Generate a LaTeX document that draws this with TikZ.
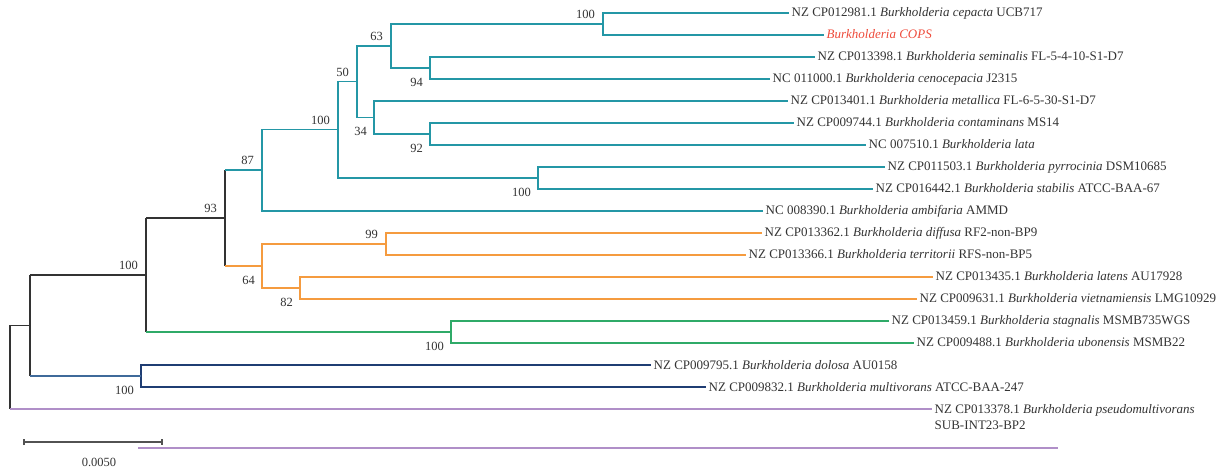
\documentclass[tikz,border=0pt]{standalone}
\usepackage{fontspec}
\setmainfont{Liberation Serif}
\usepackage{xcolor}
\usetikzlibrary{arrows.meta,positioning}
\definecolor{CladeTeal}{HTML}{2497A6}
\definecolor{CladeOrange}{HTML}{F59B3F}
\definecolor{CladeGreen}{HTML}{2FAA68}
\definecolor{CladeNavy}{HTML}{1F3D73}
\definecolor{CladeSteel}{HTML}{3F6A9A}
\definecolor{CladePurple}{HTML}{B08FC8}
\definecolor{TreeGray}{HTML}{333333}
\definecolor{CopsRed}{HTML}{EE4B3B}
\newcommand{\bk}{\textit{Burkholderia}}

\begin{document}
\begin{tikzpicture}[
  x=1pt, y=-1pt,
  leaf/.style={anchor=west, inner sep=2.5pt, text=TreeGray, font=\fontsize{13}{15}\selectfont, text height=11pt, text depth=3pt},
  bootup/.style={anchor=south east, inner sep=0pt, xshift=-8pt, yshift=5pt, text=TreeGray, font=\fontsize{12.5}{14}\selectfont},
  bootdown/.style={anchor=north east, inner sep=0pt, xshift=-7pt, yshift=-10pt, text=TreeGray, font=\fontsize{12.5}{14}\selectfont},
  branch/.style={line width=1.6pt},
  teal/.style={branch, draw=CladeTeal},
  orng/.style={branch, draw=CladeOrange},
  grn/.style={branch, draw=CladeGreen},
  navy/.style={branch, draw=CladeNavy},
  purp/.style={branch, draw=CladePurple},
  spine/.style={branch, draw=TreeGray}
]
  \useasboundingbox (0,0) rectangle (1221,470);

  % leaves
  \node[leaf] (cepacta) at (789,13) {NZ CP012981.1 \bk{} \textit{cepacta} UCB717};
  \node[leaf, text=CopsRed] (cops) at (824,35) {\bk{} \textit{COPS}};
  \node[leaf] (seminalis) at (815,57) {NZ CP013398.1 \bk{} \textit{seminalis} FL-5-4-10-S1-D7};
  \node[leaf] (cenocepacia) at (770,79) {NC 011000.1 \bk{} \textit{cenocepacia} J2315};
  \node[leaf] (metallica) at (788,101) {NZ CP013401.1 \bk{} \textit{metallica} FL-6-5-30-S1-D7};
  \node[leaf] (contaminans) at (794,123) {NZ CP009744.1 \bk{} \textit{contaminans} MS14};
  \node[leaf] (lata) at (866,145) {NC 007510.1 \bk{} \textit{lata}};
  \node[leaf] (pyrrocinia) at (885,167) {NZ CP011503.1 \bk{} \textit{pyrrocinia} DSM10685};
  \node[leaf] (stabilis) at (873,189) {NZ CP016442.1 \bk{} \textit{stabilis} ATCC-BAA-67};
  \node[leaf] (ambifaria) at (763,211) {NC 008390.1 \bk{} \textit{ambifaria} AMMD};
  \node[leaf] (diffusa) at (762,233) {NZ CP013362.1 \bk{} \textit{diffusa} RF2-non-BP9};
  \node[leaf] (territorii) at (746,255) {NZ CP013366.1 \bk{} \textit{territorii} RFS-non-BP5};
  \node[leaf] (latens) at (933,277) {NZ CP013435.1 \bk{} \textit{latens} AU17928};
  \node[leaf] (vietnam) at (917,299) {NZ CP009631.1 \bk{} \textit{vietnamiensis} LMG10929};
  \node[leaf] (stagnalis) at (889,321) {NZ CP013459.1 \bk{} \textit{stagnalis} MSMB735WGS};
  \node[leaf] (ubonensis) at (914,343) {NZ CP009488.1 \bk{} \textit{ubonensis} MSMB22};
  \node[leaf] (dolosa) at (651,365) {NZ CP009795.1 \bk{} \textit{dolosa} AU0158};
  \node[leaf] (multivorans) at (706,387) {NZ CP009832.1 \bk{} \textit{multivorans} ATCC-BAA-247};
  \node[leaf] (pseudo) at (932,409) {NZ CP013378.1 \bk{} \textit{pseudomultivorans}};
  \node[leaf] (pseudostrain) at (932,425) {SUB-INT23-BP2};

  % inner nodes
  \coordinate (nA) at (603,24);
  \coordinate (nB) at (430,68);
  \coordinate (nC) at (391,46);
  \coordinate (nD) at (430,134);
  \coordinate (nE) at (374,117.5);
  \coordinate (nF) at (357,81.5);
  \coordinate (nG) at (538,178);
  \coordinate (nH) at (338,129.5);
  \coordinate (nI) at (262,170);
  \coordinate (nJ) at (386,244);
  \coordinate (nK) at (300,288);
  \coordinate (nL) at (262,266);
  \coordinate (nM) at (225,218);
  \coordinate (nN) at (451,332);
  \coordinate (nO) at (146,275);
  \coordinate (nP) at (141,376);
  \coordinate (nQ) at (30,325.5);
  \coordinate (root) at (10,325.5);

  % teal clade
  \draw[teal] (nA) |- (cepacta.west);
  \draw[teal] (nA) |- (cops.west);
  \draw[teal] (nB) |- (seminalis.west);
  \draw[teal] (nB) |- (cenocepacia.west);
  \draw[teal] (nC) |- (nA);
  \draw[teal] (nC) |- (nB);
  \draw[teal] (nD) |- (contaminans.west);
  \draw[teal] (nD) |- (lata.west);
  \draw[teal] (nE) |- (metallica.west);
  \draw[teal] (nE) |- (nD);
  \draw[teal] (nF) |- (nC);
  \draw[teal] (nF) |- (nE);
  \draw[teal] (nG) |- (pyrrocinia.west);
  \draw[teal] (nG) |- (stabilis.west);
  \draw[teal] (nH) |- (nF);
  \draw[teal] (nH) |- (nG);
  \draw[teal] (nI) |- (nH);
  \draw[teal] (nI) |- (ambifaria.west);

  % orange clade
  \draw[orng] (nJ) |- (diffusa.west);
  \draw[orng] (nJ) |- (territorii.west);
  \draw[orng] (nK) |- (latens.west);
  \draw[orng] (nK) |- (vietnam.west);
  \draw[orng] (nL) |- (nJ);
  \draw[orng] (nL) |- (nK);

  % green and navy clades
  \draw[grn] (nN) |- (stagnalis.west);
  \draw[grn] (nN) |- (ubonensis.west);
  \draw[navy] (nP) |- (dolosa.west);
  \draw[navy] (nP) |- (multivorans.west);

  % backbone
  \draw[spine] (nM |- nI) -- (nM |- nL);
  \draw[teal] (nM |- nI) -- (nI);
  \draw[orng] (nM |- nL) -- (nL);
  \draw[spine] (nO |- nM) -- (nO |- nN);
  \draw[spine] (nO |- nM) -- (nM);
  \draw[grn] (nO |- nN) -- (nN);
  \draw[spine] (nQ |- nO) -- (nQ |- nP);
  \draw[spine] (nQ |- nO) -- (nO);
  \draw[branch, draw=CladeSteel] (nQ |- nP) -- (nP);
  \draw[spine] (root) -- (nQ);
  \draw[spine] (root) -- (root |- pseudo.west);
  \draw[purp] (root |- pseudo.west) -- (pseudo.west);

  % bootstrap values
  \node[bootup] (bA) at (nA) {100};
  \node[bootdown] (bB) at (nB) {94};
  \node[bootup] (bC) at (nC) {63};
  \node[bootdown] (bD) at (nD) {92};
  \node[bootdown] (bE) at (nE) {34};
  \node[bootup] (bF) at (nF) {50};
  \node[bootdown] (bG) at (nG) {100};
  \node[bootup] (bH) at (nH) {100};
  \node[bootup] (bI) at (nI) {87};
  \node[bootup] (bJ) at (nJ) {99};
  \node[bootdown] (bK) at (nK) {82};
  \node[bootdown] (bL) at (nL) {64};
  \node[bootup] (bM) at (nM) {93};
  \node[bootdown] (bN) at (nN) {100};
  \node[bootup] (bO) at (nO) {100};
  \node[bootdown] (bP) at (nP) {100};

  % scale bar
  \coordinate (sbl) at (23,442);
  \coordinate (sbr) at (163,442);
  \draw[line width=1.6pt, draw=TreeGray!85, {Bar[width=6pt]}-{Bar[width=6pt]}] (sbl) -- (sbr);
  \node[text=TreeGray, font=\fontsize{12.5}{14}\selectfont] (sblabel) at (99,462) {0.0050};
  \coordinate (pl) at (138,448);
  \coordinate (pr) at (1058,448);
  \draw[purp] (pl) -- (pr);
\end{tikzpicture}
\end{document}
